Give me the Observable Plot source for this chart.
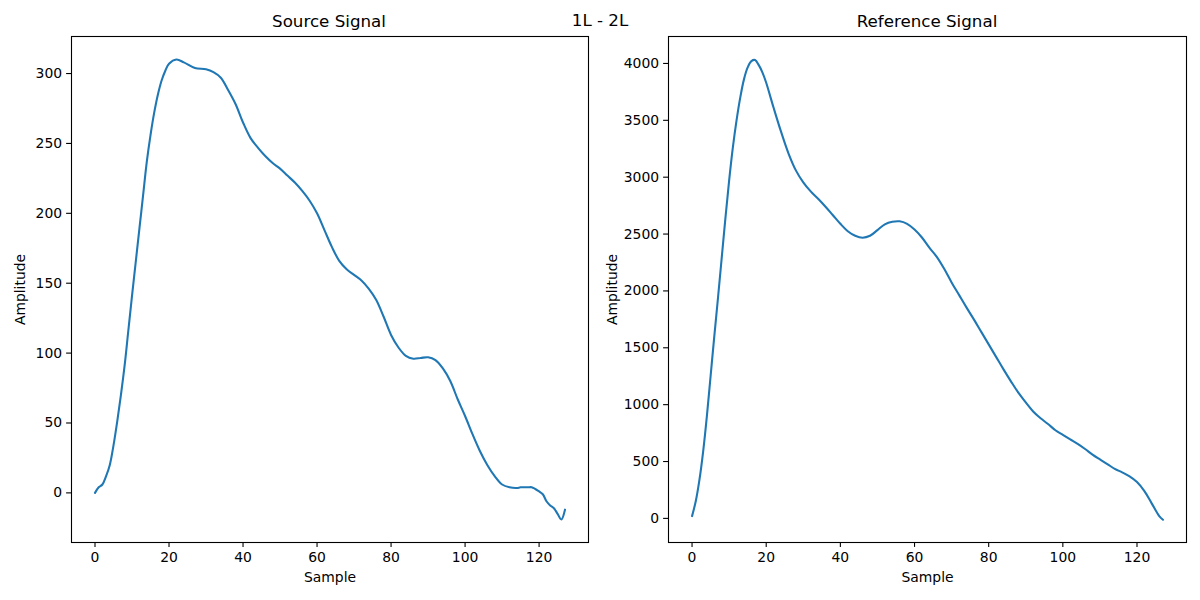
<!DOCTYPE html>
<html>
<head>
<meta charset="utf-8">
<script src="https://cdn.jsdelivr.net/npm/d3@7"></script>
<script src="https://cdn.jsdelivr.net/npm/@observablehq/plot@0.6"></script>
<style>
  html, body { margin: 0; padding: 0; background: #fff; }
  body { width: 1200px; height: 600px; position: relative; overflow: hidden; font-family: "DejaVu Sans", sans-serif; color: #000; }
  .panel { position: absolute; top: 0; z-index: 1; }
  .title { position: absolute; z-index: 2; font-size: 16.7px; transform: translateX(-50%); white-space: nowrap; line-height: 1; }
</style>
</head>
<body>
<div class="title" style="left:600px; top:12px;">1L - 2L</div>
<div class="title" style="left:329px; top:13px;">Source Signal</div>
<div class="title" style="left:927px; top:13px;">Reference Signal</div>
<div id="left" class="panel" style="left:0px;"></div>
<div id="right" class="panel" style="left:600px;"></div>
<script>
// Source signal (sample index, amplitude)
const sourceSamples = [0,1,2,3,4,5,6,7,8,9,10,11,12,13,14,15,16,17,18,19,20,22,24,27,30,32,34,36,38,40,42,44,46,48,50,52,54,56,58,60,62,64,66,68,70,72,74,76,78,80,82,84,86,88,90,92,94,96,98,100,102,104,106,108,110,112,114,115,117,118,120,121,122,123,124,125,126,127];
const sourceValues = [0,4,6,12,20,34,51,70,91,116,141,165,189,213,237,256,272,285,295,302,307,310,308,304,303,301,297,288,278,265,254,247,241,236,232,227,222,216,209,200,188,176,166,160,156,152,146,138,126,113,104,98,96,96.5,97,95,89,80,67,55,42,30,20,12,6,4,3.5,4,4,4,1,-1,-6,-9,-11,-15,-19,-12];

// Reference signal (sample index, amplitude)
const refSamples = [0,1,2,3,4,5,6,7,8,9,10,11,12,13,14,15,16,17,18,19,20,22,24,26,28,30,32,34,36,38,40,42,44,46,48,50,52,54,56,58,60,62,64,66,68,70,72,74,76,78,80,82,84,86,88,90,92,94,96,98,100,102,104,106,108,110,112,114,116,118,120,122,124,126,127];
const refValues = [20,150,340,590,900,1250,1600,1940,2290,2640,2970,3260,3500,3700,3860,3965,4020,4030,3985,3920,3830,3610,3400,3210,3060,2955,2875,2810,2740,2665,2590,2525,2485,2468,2485,2535,2585,2608,2612,2590,2540,2470,2380,2300,2195,2075,1965,1855,1750,1640,1530,1420,1310,1205,1105,1020,940,880,830,775,735,695,655,610,560,518,478,435,405,370,320,240,130,20,-12];

const xTicks = [0,20,40,60,80,100,120];
const sourceYTicks = [0,50,100,150,200,250,300];
const refYTicks = [0,500,1000,1500,2000,2500,3000,3500,4000];

const sourceData = sourceSamples.map((s, i) => ({sample: s, amplitude: sourceValues[i]}));
const refData = refSamples.map((s, i) => ({sample: s, amplitude: refValues[i]}));

function panel(data, yTicks, yDomain, margins, yLabelOffset) {
  return Plot.plot({
    width: 600,
    height: 600,
    marginLeft: margins.left,
    marginRight: margins.right,
    marginTop: 36,
    marginBottom: 58,
    style: {fontFamily: "DejaVu Sans, sans-serif", fontSize: "13.9px", color: "#000", background: "transparent", overflow: "visible"},
    x: {domain: [-6.35, 133.35]},
    y: {domain: yDomain},
    marks: [
      Plot.line(data, {x: "sample", y: "amplitude", stroke: "#1f77b4", strokeWidth: 2.08, curve: "catmull-rom"}),
      Plot.axisX({ticks: xTicks, tickSize: 4.9, tickPadding: 4.5, tickFormat: "d", label: "Sample", labelAnchor: "center", labelOffset: 39, labelArrow: "none", strokeWidth: 1.1}),
      Plot.axisY({ticks: yTicks, tickSize: 4.9, tickPadding: 4.5, tickFormat: "d", label: "Amplitude", labelAnchor: "center", labelOffset: yLabelOffset, labelArrow: "none", strokeWidth: 1.1}),
      Plot.frame({stroke: "#000", strokeWidth: 1.1})
    ]
  });
}

document.getElementById("left").append(panel(sourceData, sourceYTicks, [-35.5, 326.5], {left: 71, right: 12}, 56));
document.getElementById("right").append(panel(refData, refYTicks, [-212, 4237], {left: 68, right: 14}, 61));
</script>
</body>
</html>
